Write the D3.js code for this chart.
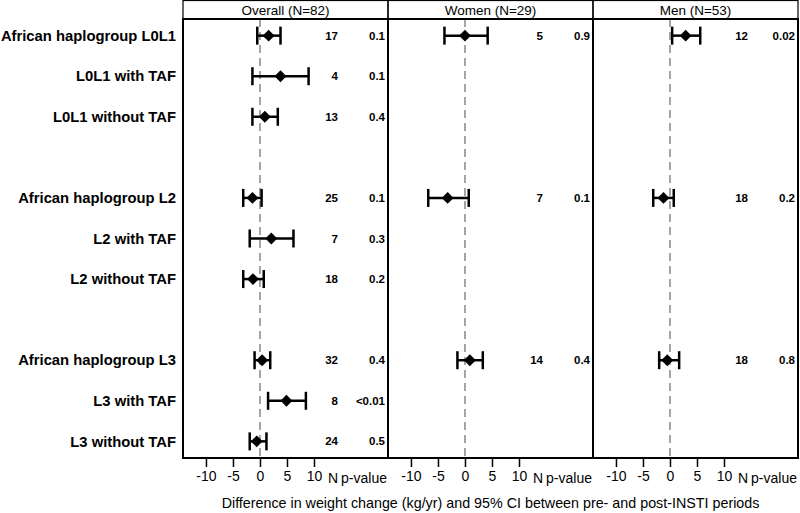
<!DOCTYPE html>
<html>
<head>
<meta charset="utf-8">
<script src="https://cdn.jsdelivr.net/npm/d3@7"></script>
<style>
  body { margin: 0; background: #fff; }
  text { font-family: "Liberation Sans", Arial, sans-serif; }
</style>
</head>
<body>
<div id="chart"></div>
<script>
// Row labels (null = spacer row)
const rowLabels = [
    "African haplogroup L0L1", "L0L1 with TAF", "L0L1 without TAF", null,
    "African haplogroup L2", "L2 with TAF", "L2 without TAF", null,
    "African haplogroup L3", "L3 with TAF", "L3 without TAF"
];

const panelTitles = ["Overall (N=82)", "Women (N=29)", "Men (N=53)"];
const xTicks = [-10, -5, 0, 5, 10];

// Overall
const overallEst = [1.6, 3.8, 0.9, -1.4, 2.1, -1.3, 0.4, 4.9, -0.6];
const overallLow = [-0.5, -1.4, -1.4, -3.1, -1.9, -3.1, -1.0, 1.5, -1.9];
const overallHigh = [3.8, 9.0, 3.3, 0.3, 6.2, 0.7, 1.9, 8.5, 1.2];
const overallN = ["17", "4", "13", "25", "7", "18", "32", "8", "24"];
const overallP = ["0.1", "0.1", "0.4", "0.1", "0.3", "0.2", "0.4", "<0.01", "0.5"];
const overallRows = [0, 1, 2, 4, 5, 6, 8, 9, 10];

// Women
const womenEst = [0.0, -3.2, 0.9];
const womenLow = [-3.8, -6.8, -1.4];
const womenHigh = [4.2, 0.7, 3.3];
const womenN = ["5", "7", "14"];
const womenP = ["0.9", "0.1", "0.4"];
const womenRows = [0, 4, 8];

// Men
const menEst = [2.9, -1.2, -0.5];
const menLow = [0.4, -3.1, -2.0];
const menHigh = [5.6, 0.7, 1.7];
const menN = ["12", "18", "18"];
const menP = ["0.02", "0.2", "0.8"];
const menRows = [0, 4, 8];

function buildPanel(title, rows, est, low, high, n, p) {
    return {
        title: title,
        points: rows.map((r, i) => ({ row: r, est: est[i], low: low[i], high: high[i], n: n[i], p: p[i] }))
    };
}

const panels = [
    buildPanel(panelTitles[0], overallRows, overallEst, overallLow, overallHigh, overallN, overallP),
    buildPanel(panelTitles[1], womenRows, womenEst, womenLow, womenHigh, womenN, womenP),
    buildPanel(panelTitles[2], menRows, menEst, menLow, menHigh, menN, menP)
];

const width = 800;
const height = 513;
const left = 183;
const panelW = 205;
const headerTop = 0;
const plotTop = 19;
const plotBottom = 458;

const svg = d3.select("#chart")
    .append("svg")
    .attr("width", width)
    .attr("height", height);

// Row positions
const y = d3.scalePoint()
    .domain(d3.range(rowLabels.length))
    .range([plotTop, plotBottom])
    .padding(0.41);

// x scale within a panel
const x = d3.scaleLinear()
    .domain([-14.25, 23.7])
    .range([0, panelW]);

// Row labels
svg.selectAll(".rowlab")
    .data(rowLabels.map((l, i) => ({ l, i })).filter(d => d.l))
    .enter().append("text")
    .attr("x", 176)
    .attr("y", d => y(d.i))
    .attr("dy", "0.35em")
    .attr("text-anchor", "end")
    .attr("font-size", "14.8px")
    .attr("font-weight", "bold")
    .text(d => d.l);

panels.forEach((panel, k) => {
    const g = svg.append("g")
        .attr("transform", `translate(${left + k * panelW},0)`);

    // header box
    g.append("rect")
        .attr("x", 0).attr("y", headerTop + 0.5)
        .attr("width", panelW).attr("height", plotTop - headerTop - 0.5)
        .attr("fill", "none").attr("stroke", "#000").attr("stroke-width", 1.2);
    g.append("text")
        .attr("x", panelW / 2)
        .attr("y", (headerTop + plotTop) / 2 + 1)
        .attr("dy", "0.35em")
        .attr("text-anchor", "middle")
        .attr("font-size", "13.5px")
        .text(panel.title);

    // reference line at 0
    g.append("line")
        .attr("x1", x(0)).attr("x2", x(0))
        .attr("y1", plotTop).attr("y2", plotBottom)
        .attr("stroke", "#888").attr("stroke-width", 1.5)
        .attr("stroke-dasharray", "8,5");

    // plot frame
    g.append("rect")
        .attr("x", 0).attr("y", plotTop)
        .attr("width", panelW).attr("height", plotBottom - plotTop)
        .attr("fill", "none").attr("stroke", "#000").attr("stroke-width", 2);

    // axis
    const axis = d3.axisBottom(x)
        .tickValues(xTicks)
        .tickSize(9)
        .tickPadding(4)
        .tickFormat(d => String(d));
    const ax = g.append("g")
        .attr("transform", `translate(0,${plotBottom})`)
        .call(axis);
    ax.select(".domain").remove();
    ax.selectAll(".tick line").attr("stroke", "#000").attr("stroke-width", 1.5);
    ax.selectAll(".tick text")
        .attr("font-size", "14px")
        .attr("font-family", "Liberation Sans, Arial, sans-serif")
        .attr("fill", "#000");

    g.append("text")
        .attr("x", 150).attr("y", 478)
        .attr("dy", "0.35em")
        .attr("text-anchor", "middle")
        .attr("font-size", "14px")
        .text("N");
    g.append("text")
        .attr("x", panelW - 1).attr("y", 478)
        .attr("dy", "0.35em")
        .attr("text-anchor", "end")
        .attr("font-size", "14px")
        .text("p-value");

    const pts = g.selectAll(".pt")
        .data(panel.points)
        .enter().append("g")
        .attr("transform", d => `translate(0,${y(d.row)})`);

    pts.append("line")
        .attr("x1", d => x(d.low)).attr("x2", d => x(d.high))
        .attr("stroke", "#000").attr("stroke-width", 2.5);
    pts.append("line")
        .attr("x1", d => x(d.low)).attr("x2", d => x(d.low))
        .attr("y1", -9).attr("y2", 9)
        .attr("stroke", "#000").attr("stroke-width", 2.5);
    pts.append("line")
        .attr("x1", d => x(d.high)).attr("x2", d => x(d.high))
        .attr("y1", -9).attr("y2", 9)
        .attr("stroke", "#000").attr("stroke-width", 2.5);
    pts.append("path")
        .attr("d", d3.symbol().type(d3.symbolDiamond2).size(90))
        .attr("transform", d => `translate(${x(d.est)},0)`)
        .attr("fill", "#000");

    pts.append("text")
        .attr("x", 155)
        .attr("dy", "0.35em")
        .attr("text-anchor", "end")
        .attr("font-size", "11.5px")
        .attr("font-weight", "bold")
        .text(d => d.n);
    pts.append("text")
        .attr("x", panelW - 3)
        .attr("dy", "0.35em")
        .attr("text-anchor", "end")
        .attr("font-size", "11.5px")
        .attr("font-weight", "bold")
        .text(d => d.p);
});

// axis title
svg.append("text")
    .attr("x", left + 1.5 * panelW)
    .attr("y", 503)
    .attr("dy", "0.35em")
    .attr("text-anchor", "middle")
    .attr("font-size", "14.3px")
    .text("Difference in weight change (kg/yr) and 95% CI between pre- and post-INSTI periods");
</script>
</body>
</html>
